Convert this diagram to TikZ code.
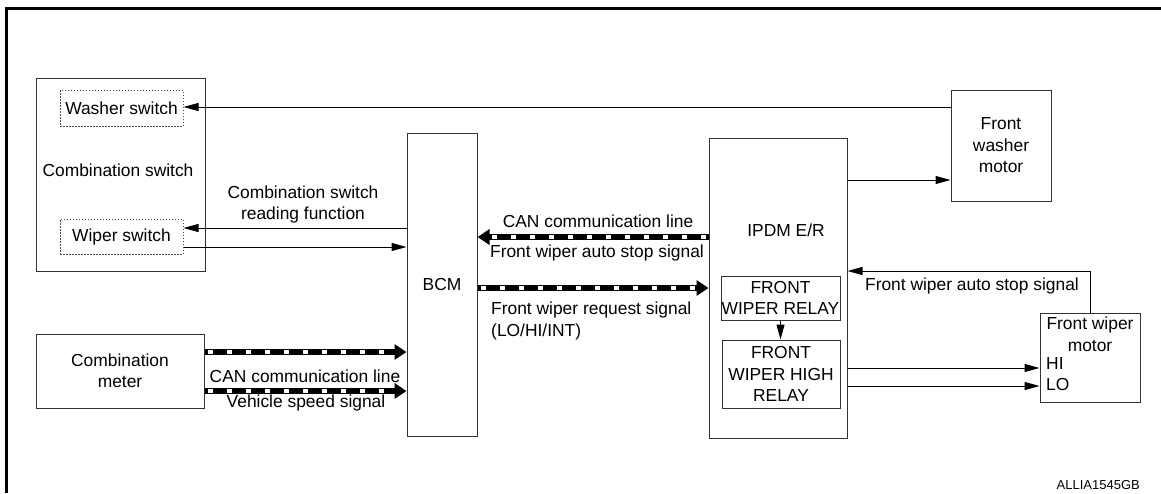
\documentclass[tikz,border=0pt]{standalone}
\usepackage{fontspec}
\setmainfont{Liberation Sans}
\usetikzlibrary{arrows.meta}
\newcommand{\diagfont}{\fontsize{17.4}{21.5}\selectfont}
\tikzset{
  blk/.style={draw=black!80, line width=1pt, inner sep=0pt, align=center, font=\diagfont},
  swbox/.style={blk, draw=black!70, dash pattern=on 1.5pt off 1.5pt},
  txt/.style={inner sep=0pt, align=center, font=\diagfont},
  sig/.style={line width=1pt, -{Triangle[length=15pt,width=8pt]}},
  canline/.style={line width=6.5pt, -{Triangle[length=12pt,width=15pt]},
    postaction={draw=white, line width=3.5pt, -, shorten >=12pt,
      dash pattern=on 5pt off 14pt, dash phase=16pt}},
}
\begin{document}
\begin{tikzpicture}[x=1pt, y=-1pt]
  \useasboundingbox (0,0) rectangle (1161,493);
  \draw[line width=3pt] (6,493) -- (6,8) -- (1161,8);
  % blocks
  \node[blk, minimum width=169pt, minimum height=193pt] (cswitch) at (120.5,174.5) {};
  \node[txt] (cswlabel) at (118,170) {Combination switch};
  \node[swbox, minimum width=123pt, minimum height=36pt] (washsw) at (121.5,108) {Washer switch};
  \node[swbox, minimum width=123pt, minimum height=35pt] (wipsw) at (121.5,236.5) {Wiper switch};
  \node[blk, minimum width=168pt, minimum height=74pt] (cmeter) at (120,371) {Combination\\meter};
  \node[blk, minimum width=70pt, minimum height=303pt] (bcm) at (442,284.5) {BCM};
  \node[blk, minimum width=138pt, minimum height=300pt] (ipdm) at (778,288) {};
  \node[txt] (ipdmlabel) at (786,230) {IPDM E/R};
  \node[blk, minimum width=119pt, minimum height=44pt] (relay) at (780.5,298) {FRONT\\WIPER RELAY};
  \node[blk, minimum width=118pt, minimum height=68pt] (hirelay) at (781,374) {FRONT\\WIPER HIGH\\RELAY};
  \node[blk, minimum width=100pt, minimum height=111pt] (washer) at (1001,145.5) {Front\\washer\\motor};
  \node[blk, minimum width=100pt, minimum height=89pt] (wmotor) at (1090,357.5) {};
  \node[txt, anchor=north] (wmlabel) at (1090,317) {Front wiper\\motor};
  \node[txt, anchor=west] (hilabel) at (1046,364) {HI};
  \node[txt, anchor=west] (lolabel) at (1046,385) {LO};
  % switch lines
  \draw[sig] (washer.west |- 0,107) -- (washsw.east |- 0,107);
  \draw[sig] (ipdm.east |- 0,180) -- (washer.west |- 0,180);
  \draw[sig] (bcm.west |- 0,228) -- (wipsw.east |- 0,228);
  \draw[sig] (wipsw.east |- 0,247) -- (bcm.west |- 0,247);
  \node[txt] (csrlabel) at (303,204.5) {Combination switch\\reading function};
  % CAN lines
  \draw[canline] (cmeter.east |- 0,352) -- (bcm.west |- 0,352);
  \draw[canline] (cmeter.east |- 0,391) -- (bcm.west |- 0,391);
  \node[txt] (canmeter) at (305,376) {CAN communication line};
  \node[txt] (speedsig) at (306,403) {Vehicle speed signal};
  \draw[canline] (ipdm.west |- 0,237) -- (bcm.east |- 0,237);
  \node[txt] (canipdm) at (598,221) {CAN communication line};
  \node[txt] (stopsig) at (597,253) {Front wiper auto stop signal};
  \draw[canline] (bcm.east |- 0,288) -- (ipdm.west |- 0,288);
  \node[txt, anchor=west, align=left] (reqsig) at (491,321) {Front wiper request signal\\(LO/HI/INT)};
  % wiper motor lines
  \draw[sig] (wmotor.north) |- (ipdm.east |- 0,271);
  \node[txt] (motorstop) at (972,286) {Front wiper auto stop signal};
  \draw[sig] (relay.south) -- (relay.south |- hirelay.north);
  \draw[sig] (ipdm.east |- 0,368) -- (wmotor.west |- 0,368);
  \draw[sig] (ipdm.east |- 0,386) -- (wmotor.west |- 0,386);
  \node[inner sep=0pt, anchor=east, font=\fontsize{13}{15}\selectfont] (figid) at (1140,485) {ALLIA1545GB};
\end{tikzpicture}
\end{document}
